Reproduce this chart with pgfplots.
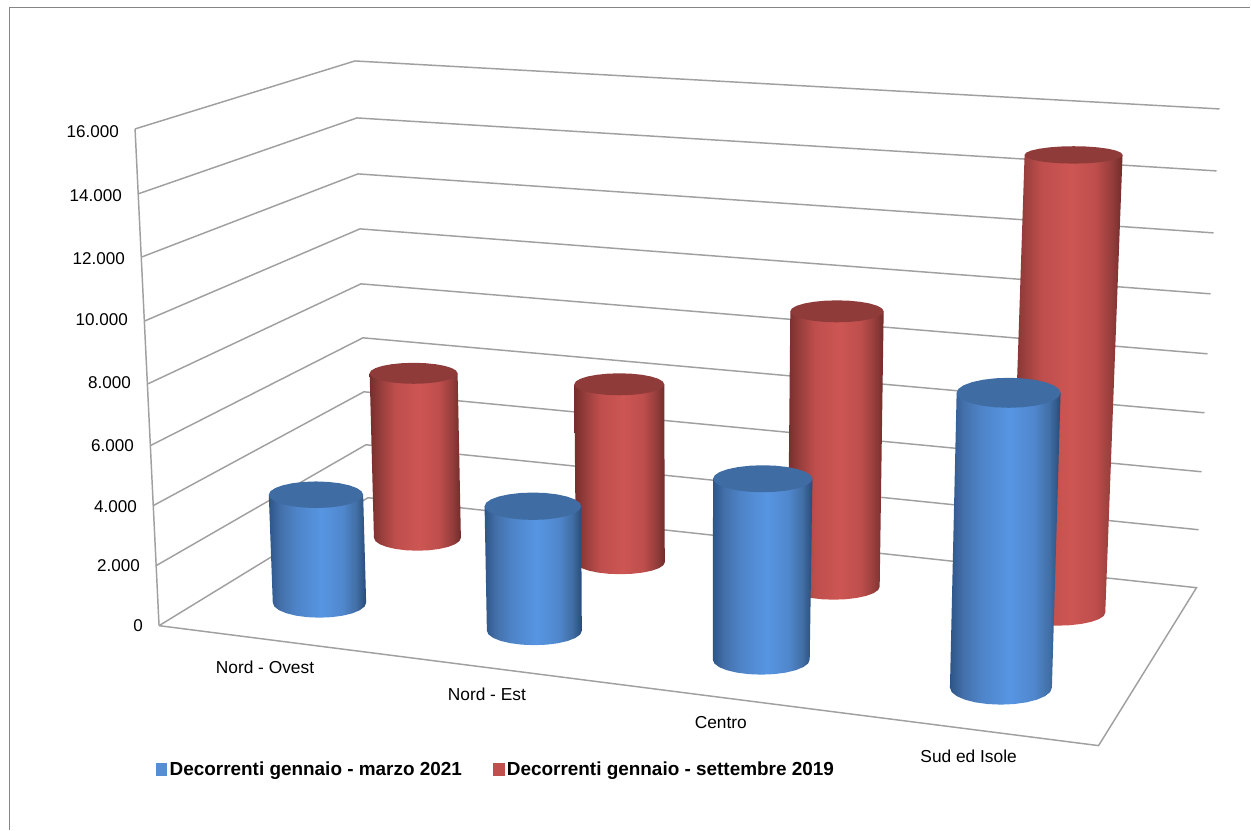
\documentclass[border=0pt]{standalone}
\usepackage{fontspec}
\setmainfont{Liberation Sans}
\usepackage{pgfplots}
\usepackage{pgfplotstable}
\pgfplotsset{compat=1.18}
\definecolor{gridc}{HTML}{A0A0A0}
\definecolor{framec}{HTML}{868686}
\definecolor{bluetop}{HTML}{3F6CA3}
\definecolor{redtop}{HTML}{8E3B3A}
\definecolor{bluekey}{HTML}{558ED5}
\definecolor{redkey}{HTML}{C0504D}
\definecolor{ba}{RGB}{45,85,135}
\definecolor{bb}{RGB}{68,112,170}
\definecolor{bc}{RGB}{78,132,200}
\definecolor{bd}{RGB}{87,149,226}
\definecolor{be}{RGB}{80,135,205}
\definecolor{bf}{RGB}{65,110,165}
\definecolor{bg}{RGB}{40,75,120}
\definecolor{ra}{RGB}{118,46,44}
\definecolor{rb}{RGB}{150,62,60}
\definecolor{rc}{RGB}{190,78,76}
\definecolor{rd}{RGB}{205,86,83}
\definecolor{re}{RGB}{190,78,76}
\definecolor{rf}{RGB}{150,62,60}
\definecolor{rg}{RGB}{112,44,42}
% the path's bounding box maps onto the 25bp..75bp band
\pgfdeclarehorizontalshading{bluecyl}{100bp}{
 color(0bp)=(ba); color(25bp)=(ba); color(31bp)=(bb); color(39bp)=(bc);
 color(52bp)=(bd); color(63bp)=(be); color(70bp)=(bf); color(75bp)=(bg); color(100bp)=(bg)}
\pgfdeclarehorizontalshading{redcyl}{100bp}{
 color(0bp)=(ra); color(25bp)=(ra); color(31bp)=(rb); color(39bp)=(rc);
 color(52bp)=(rd); color(63bp)=(re); color(70bp)=(rf); color(75bp)=(rg); color(100bp)=(rg)}
% side of a cylinder: u,v on the unit circle, t=1 top rim, t=0 bottom rim
\pgfplotstableread{
u v t
-1 0 1
-1 0 0
-0.966 0.259 0
-0.866 0.5 0
-0.707 0.707 0
-0.5 0.866 0
-0.259 0.966 0
0 1 0
0.259 0.966 0
0.5 0.866 0
0.707 0.707 0
0.866 0.5 0
0.966 0.259 0
1 0 0
1 0 1
}\sidetable
\pgfplotstableread{
u v
-1 0
-0.966 -0.259
-0.866 -0.5
-0.707 -0.707
-0.5 -0.866
-0.259 -0.966
0 -1
0.259 -0.966
0.5 -0.866
0.707 -0.707
0.866 -0.5
0.966 -0.259
1 0
0.966 0.259
0.866 0.5
0.707 0.707
0.5 0.866
0.259 0.966
0 1
-0.259 0.966
-0.5 0.866
-0.707 0.707
-0.866 0.5
-0.966 0.259
}\rimtable
% #1 colour; #2-#5 top rim cx rx cy ry; #6-#9 bottom rim cx rx cy ry
\newcommand{\cyl}[9]{%
 \addplot[forget plot, draw=none, shade, shading=#1cyl] table[
   x expr={(1-\thisrow{t})*(#6+#7*\thisrow{u})+\thisrow{t}*(#2+#3*\thisrow{u})},
   y expr={(1-\thisrow{t})*(#8+#9*\thisrow{v})+\thisrow{t}*(#4+#5*\thisrow{v})}] {\sidetable} -- cycle;
 \addplot[forget plot, draw=none, fill=#1top] table[
   x expr={#2+#3*\thisrow{u}},
   y expr={#4+#5*\thisrow{v}}] {\rimtable} -- cycle;
}
\begin{document}
\begin{tikzpicture}
\begin{axis}[
  x=0.75pt, y=0.75pt,
  xmin=0, xmax=1251, ymin=0, ymax=830,
  y dir=reverse,
  clip=false,
  axis line style={draw=none},
  xtick=\empty,
  ytick={132,196,259,320,383,446,507,566,626},
  yticklabels={{16.000\rule{18pt}{0pt}},{14.000\rule{15.75pt}{0pt}},{12.000\rule{13.5pt}{0pt}},{10.000\rule{11.25pt}{0pt}},{8.000\rule{9pt}{0pt}},{6.000\rule{6.75pt}{0pt}},{4.000\rule{4.5pt}{0pt}},{2.000\rule{2.25pt}{0pt}},{0}},
  major tick length=0pt,
  yticklabel style={anchor=east, inner sep=0pt, xshift=107.25pt, font=\fontsize{12.8}{15}\selectfont},
  legend style={at={(axis cs:156,770)}, anchor=west, draw=none, fill=none, inner sep=0pt, outer sep=0pt,
    legend columns=2, font=\fontsize{14.2}{17}\selectfont\bfseries,
    /tikz/every even column/.append style={column sep=21.5pt}},
  legend image code/.code={\fill[#1] (0pt,-4.5pt) rectangle (7.8pt,4.5pt);},
]
% frame
\addplot[forget plot, framec, line width=0.8pt] coordinates {(9,830) (9,7.5) (1251,7.5)};
% walls and gridlines
\addplot[forget plot, gridc, line width=1.1pt] coordinates {(159,626) (135,129)};
\addplot[forget plot, gridc, line width=1.1pt] coordinates {(135,129) (355,61) (1220,109)};
\addplot[forget plot, gridc, line width=1.1pt] coordinates {(138,194) (357,118) (1217,171)};
\addplot[forget plot, gridc, line width=1.1pt] coordinates {(142,257) (358,174) (1214,233)};
\addplot[forget plot, gridc, line width=1.1pt] coordinates {(145,321) (360,229) (1211,294)};
\addplot[forget plot, gridc, line width=1.1pt] coordinates {(148,384) (361,284) (1208,354)};
\addplot[forget plot, gridc, line width=1.1pt] coordinates {(150,446) (363,338) (1205,413)};
\addplot[forget plot, gridc, line width=1.1pt] coordinates {(153,506) (364,392) (1202,472)};
\addplot[forget plot, gridc, line width=1.1pt] coordinates {(156,566) (366,445) (1199,530)};
\addplot[forget plot, gridc, line width=1.1pt] coordinates {(159,626) (368,498) (1197,588) (1099,746) (159,626)};
% settembre 2019
\cyl{red}{413.7}{44}{373.5}{10.5}{417.5}{43.5}{538}{13}
\cyl{red}{619.5}{45}{384.5}{11}{620.5}{44.5}{562.5}{12}
\cyl{red}{837.3}{46.7}{311.5}{11}{834}{46}{587}{13}
\cyl{red}{1074}{49}{155}{8.7}{1057.7}{48}{613}{13}
% gennaio - marzo 2021
\cyl{blue}{316}{47.2}{495}{13.3}{319.5}{46.7}{603}{15}
\cyl{blue}{533}{48.3}{506.5}{13.7}{534.5}{47.5}{631}{14.5}
\cyl{blue}{763}{49.7}{479}{13.5}{761.5}{48.5}{660}{15}
\cyl{blue}{1009}{52}{393}{15}{1001.3}{51}{688}{17}
% category names
\node[font=\fontsize{13}{15}\selectfont] at (axis cs:265,668) {Nord - Ovest};
\node[font=\fontsize{13}{15}\selectfont] at (axis cs:487,695) {Nord - Est};
\node[font=\fontsize{13}{15}\selectfont] at (axis cs:721,723) {Centro};
\node[font=\fontsize{13}{15}\selectfont] at (axis cs:969,757) {Sud ed Isole};
% legend
\addlegendimage{bluekey}
\addlegendentry{Decorrenti gennaio - marzo 2021}
\addlegendimage{redkey}
\addlegendentry{Decorrenti gennaio - settembre 2019}
\end{axis}
\end{tikzpicture}
\end{document}
